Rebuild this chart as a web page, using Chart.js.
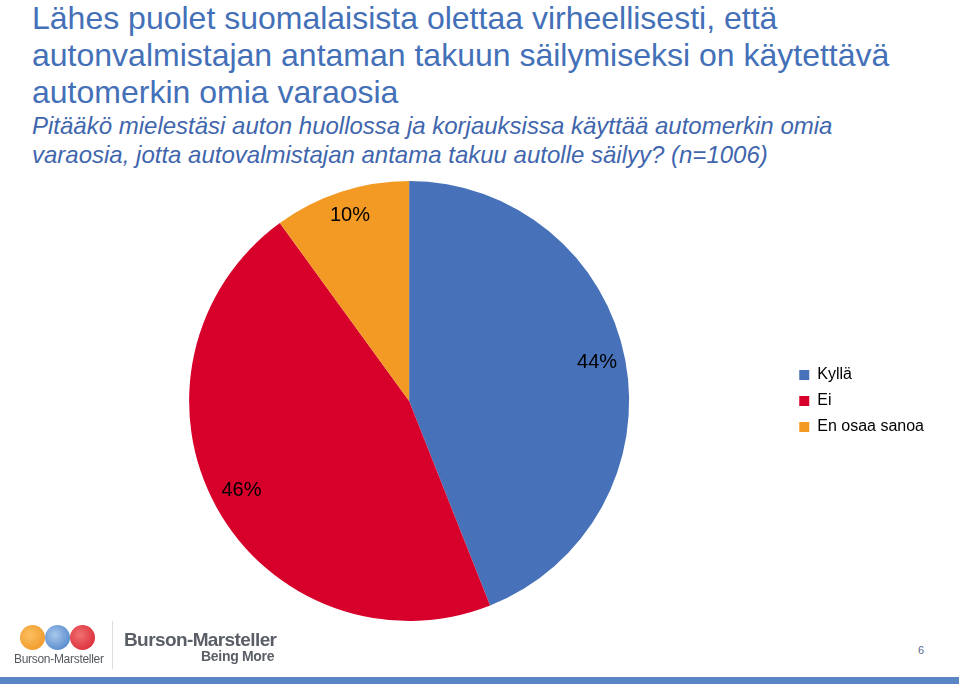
<!DOCTYPE html>
<html><head><meta charset="utf-8">
<script src="https://cdn.jsdelivr.net/npm/chart.js@4/dist/chart.umd.min.js"></script>
<style>
html,body{margin:0;padding:0;background:#fff;width:959px;height:684px;overflow:hidden;font-family:Arial,"Liberation Sans",sans-serif;}
#title{position:absolute;left:32px;top:0px;font-size:32px;line-height:37px;color:#4470B8;white-space:nowrap;}
#sub{position:absolute;left:32px;top:111px;font-size:24px;line-height:29px;color:#3F66AD;font-style:italic;white-space:nowrap;}
#wrap{position:absolute;left:0;top:171px;width:959px;height:460px;}
#bar{position:absolute;left:0;top:677px;width:959px;height:7px;background:#5B86C6;}
#page{position:absolute;left:918px;top:644px;font-size:11px;color:#5a6a8a;}
.globe{position:absolute;top:625px;width:25px;height:25px;border-radius:50%;}
#bm1{position:absolute;left:14px;top:652px;font-size:12px;color:#55595f;letter-spacing:-0.3px;}
#sep{position:absolute;left:112px;top:621px;width:1px;height:48px;background:#ddd;}
#bm2{position:absolute;left:124px;top:629px;font-size:19px;font-weight:bold;color:#5a5e66;letter-spacing:-0.6px;}
#bm3{position:absolute;left:201px;top:648px;font-size:14px;font-weight:bold;color:#5a5e66;letter-spacing:-0.3px;}
</style></head>
<body>
<div id="title">Lähes puolet suomalaisista olettaa virheellisesti, että<br>autonvalmistajan antaman takuun säilymiseksi on käytettävä<br>automerkin omia varaosia</div>
<div id="sub">Pitääkö mielestäsi auton huollossa ja korjauksissa käyttää automerkin omia<br>varaosia, jotta autovalmistajan antama takuu autolle säilyy? (n=1006)</div>
<div id="wrap"><canvas id="c"></canvas></div>
<div class="globe" style="left:20px;background:radial-gradient(circle at 40% 40%,#fbc060,#ee8f1c);"></div>
<div class="globe" style="left:45px;background:radial-gradient(circle at 40% 40%,#a8c8ec,#3f78c4);"></div>
<div class="globe" style="left:70px;background:radial-gradient(circle at 40% 40%,#f07070,#d61c2c);"></div>
<div id="bm1">Burson-Marsteller</div>
<div id="sep"></div>
<div id="bm2">Burson-Marsteller</div>
<div id="bm3">Being More</div>
<div id="page">6</div>
<div id="bar"></div>
<script>
const categories = ["Kyllä", "Ei", "En osaa sanoa"];
const values = [44, 46, 10];
const colors = ["#4771B9", "#D7002B", "#F39A25"];

const labelPlugin = {
  id: 'sliceLabels',
  afterDatasetsDraw(chart) {
    const ctx = chart.ctx;
    const meta = chart.getDatasetMeta(0);
    ctx.save();
    ctx.font = '20px Arial, "Liberation Sans", sans-serif';
    ctx.fillStyle = '#000';
    ctx.textAlign = 'center';
    ctx.textBaseline = 'middle';
    meta.data.forEach((arc, i) => {
      const p = arc.getProps(['x','y','startAngle','endAngle','outerRadius'], true);
      const mid = (p.startAngle + p.endAngle) / 2;
      const r = p.outerRadius * 0.87;
      ctx.fillText(values[i] + '%', p.x + Math.cos(mid) * r, p.y + Math.sin(mid) * r - 3);
    });
    ctx.restore();
  }
};

new Chart(document.getElementById('c'), {
  type: 'pie',
  data: {
    labels: categories,
    datasets: [{ data: values, backgroundColor: colors, borderWidth: 0 }]
  },
  options: {
    responsive: true,
    maintainAspectRatio: false,
    animation: false,
    layout: { padding: { top: 10, bottom: 10, left: 29, right: 25 } },
    plugins: {
      legend: {
        position: 'right',
        labels: {
          boxWidth: 10, boxHeight: 10, padding: 10,
          color: '#000',
          font: { size: 16, family: 'Arial, "Liberation Sans", sans-serif' }
        }
      },
      tooltip: { enabled: false }
    }
  },
  plugins: [labelPlugin]
});
</script>
</body></html>
